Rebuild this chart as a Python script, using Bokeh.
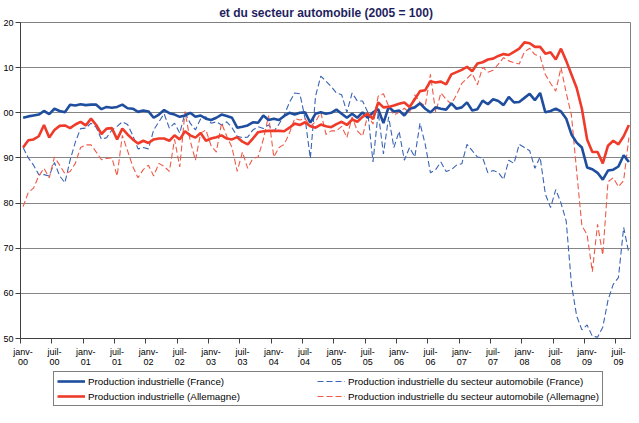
from bokeh.plotting import figure
from bokeh.layouts import column
from bokeh.models import Range1d, FixedTicker, Legend, LegendItem, ColumnDataSource
from bokeh.embed import file_html
from bokeh.resources import INLINE

# ---------------- data (monthly, janv-00 .. sept-09) ----------------
fr_ip = [98.9, 99.2, 99.4, 99.6, 100.4, 99.7, 100.9, 100.4, 100.1, 101.8, 101.6, 101.9, 101.7, 101.8, 101.8, 100.8,
         101.3, 101.1, 101.3, 101.8, 101.0, 100.9, 100.2, 100.5, 100.3, 98.9, 99.6, 100.6, 99.9, 99.6, 99.1,
         99.4, 100.0, 99.1, 99.4, 98.7, 98.4, 98.9, 99.6, 99.3, 98.9, 96.7, 96.9, 97.2, 97.9, 97.8, 99.4, 98.4,
         98.7, 98.4, 99.3, 100.0, 99.6, 100.0, 100.1, 97.8, 99.8, 100.1, 99.8, 100.0,
         100.7, 99.8, 98.9, 99.8, 98.9, 100.1, 98.9, 100.1, 100.8, 97.7, 101.3, 100.3, 100.5, 99.4, 100.9, 101.2,
         102.1, 100.9, 100.1, 101.2, 100.9, 100.7, 102.1, 100.9, 101.2, 102.3, 100.5, 100.8, 102.7,
         101.9, 103.0, 102.6, 101.7, 103.5, 102.3, 102.4, 103.3, 104.2, 102.8, 104.4, 100.1, 100.4, 100.9, 100.3,
         98.7, 95.2, 93.4, 92.3, 87.9, 87.5, 86.7, 85.2, 87.2, 87.4, 88.1, 90.6, 89.1]

de_ip = [92.3, 93.9, 94.1, 94.8, 97.3, 94.5, 96.2, 97.1, 97.2, 96.6, 97.4, 98.0, 97.2, 98.7, 97.3, 95.3,
         96.5, 96.6, 94.1, 96.5, 95.2, 94.1, 93.2, 93.8, 93.3, 94.1, 94.3, 94.3, 93.8, 95.0, 94.1,
         95.9, 95.0, 94.5, 95.5, 93.8, 94.3, 94.6, 95.0, 94.3, 94.1, 94.6, 93.6, 93.0, 94.3, 95.7, 95.9, 96.0,
         96.0, 96.0, 95.9, 96.7, 97.6, 97.3, 97.9, 97.0, 96.7, 97.4, 97.0, 96.8,
         97.5, 98.0, 97.3, 98.5, 98.0, 99.1, 99.8, 98.6, 102.3, 101.2, 101.3, 101.6, 102.0, 102.3, 101.3, 103.0,
         104.8, 105.0, 107.0, 106.7, 106.9, 106.3, 108.5, 109.0, 109.5, 110.2, 109.2, 110.9, 111.2,
         111.8, 112.0, 112.6, 113.0, 112.8, 113.5, 114.2, 115.6, 115.4, 114.6, 114.6, 113.1, 113.4, 111.8, 114.2,
         111.5, 108.5, 105.5, 100.9, 94.1, 91.3, 91.3, 88.8, 92.7, 93.8, 93.0, 94.8, 97.3]

fr_auto = [92.3, 90.0, 88.4, 86.3, 86.3, 86.0, 89.0, 86.0, 84.5, 89.5, 93.5, 96.5, 96.6, 97.7, 96.8, 94.1,
           94.5, 96.2, 97.0, 98.0, 97.4, 95.0, 92.0, 92.3, 92.0, 96.2, 98.0, 99.8, 96.6, 97.7, 95.5,
           100.0, 97.7, 96.2, 98.7, 99.1, 97.7, 98.0, 97.3, 98.0, 96.7, 94.8, 94.5, 94.6, 96.2, 96.9, 96.5, 97.3,
           95.9, 97.5, 99.5, 102.3, 104.4, 104.2, 98.7, 89.9, 103.7, 108.1, 107.0, 105.8,
           104.4, 104.0, 100.1, 104.4, 102.6, 102.6, 100.1, 89.1, 100.1, 90.9, 99.1, 92.3, 95.9, 89.5, 92.3, 90.2,
           97.7, 93.0, 86.7, 87.4, 89.1, 87.0, 87.4, 88.4, 88.7, 93.0, 91.6, 90.2, 90.0,
           86.7, 87.2, 86.8, 85.2, 89.5, 88.8, 93.0, 92.3, 91.6, 87.7, 90.2, 82.0, 79.0, 83.0, 80.0,
           76.0, 62.0, 55.0, 51.9, 53.0, 50.5, 50.3, 52.5, 58.5, 62.0, 63.5, 74.6, 68.9]

de_auto = [79.2, 82.4, 83.3, 86.0, 87.7, 85.6, 90.2, 88.4, 86.5, 87.0, 88.8, 92.3, 92.9, 92.9, 91.3, 89.6,
           89.9, 90.0, 86.0, 95.0, 91.6, 88.1, 85.6, 87.4, 88.4, 86.0, 88.8, 88.1, 87.0, 94.1, 88.0,
           100.3, 93.8, 89.5, 95.5, 96.2, 92.7, 91.3, 97.7, 94.8, 92.3, 87.0, 91.3, 87.7, 89.9, 90.2, 94.1, 99.4,
           90.2, 92.3, 93.0, 95.5, 98.7, 98.4, 98.7, 97.0, 98.0, 100.1, 95.2, 96.0,
           96.0, 97.0, 94.5, 99.1, 96.0, 94.8, 99.5, 97.5, 103.7, 104.2, 101.5, 99.5, 100.1, 101.0, 100.0, 104.0,
           102.3, 101.5, 108.5, 100.1, 104.4, 103.0, 101.9, 104.0, 106.5, 107.6, 108.7, 106.2, 110.1,
           109.0, 109.4, 110.8, 112.2, 111.5, 111.1, 110.8, 113.5, 114.3, 112.9, 112.5, 108.5, 106.5, 104.8, 110.0,
           104.4, 99.5, 87.0, 75.0, 73.0, 64.8, 75.3, 68.5, 84.7, 85.6, 83.6, 85.0, 94.5]

tick_labels = ["janv-\n00", "juil-\n00", "janv-\n01", "juil-\n01", "janv-\n02", "juil-\n02",
               "janv-\n03", "juil-\n03", "janv-\n04", "juil-\n04", "janv-\n05", "juil-\n05",
               "janv-\n06", "juil-\n06", "janv-\n07", "juil-\n07", "janv-\n08", "juil-\n08",
               "janv-\n09", "juil-\n09"]

y_ticks = [50, 60, 70, 80, 90, 100, 110, 120]
y_labels = ["50", "60", "70", "80", "90", "00", "10", "20"]   # as visible (cropped) in the reference

series_names = ["Production industrielle (France)",
                "Production industrielle (Allemagne)",
                "Production industrielle du secteur automobile (France)",
                "Production industrielle du secteur automobile (Allemagne)"]

# ---------------- styles ----------------
FONT = "Liberation Sans"
BLUE = "#1F4E9E"
BLUE_D = "#3A64B4"
RED = "#EE3B2A"
RED_D = "#F05A48"
styles = [dict(line_color=BLUE, line_width=2.6),
          dict(line_color=RED, line_width=2.6),
          dict(line_color=BLUE_D, line_width=1.1, line_dash="6 3"),
          dict(line_color=RED_D, line_width=1.1, line_dash="6 3")]
cols = ["fr_ip", "de_ip", "fr_auto", "de_auto"]

W = 631

# ---------------- main chart ----------------
n = len(fr_ip)
x = list(range(n))
src = ColumnDataSource(dict(x=x, fr_ip=fr_ip, de_ip=de_ip, fr_auto=fr_auto, de_auto=de_auto))

p = figure(width=W, height=370, output_backend="svg", toolbar_location=None,
           x_range=Range1d(-0.5, n - 0.5), y_range=Range1d(50, 120),
           min_border_left=0, min_border_right=0, min_border_top=0, min_border_bottom=0,
           background_fill_color="white", border_fill_color="white")

p.title.text = "et du secteur automobile (2005 = 100)"
p.title.align = "center"
p.title.text_font = FONT
p.title.text_font_size = "12px"
p.title.text_font_style = "bold"
p.title.text_color = "#1F1F5F"
p.title.standoff = 6

p.outline_line_color = "#7F7F7F"
p.outline_line_width = 1

# y axis
p.yaxis.ticker = FixedTicker(ticks=y_ticks)
p.yaxis.major_label_overrides = {t: l for t, l in zip(y_ticks, y_labels)}
p.yaxis.major_label_text_font = FONT
p.yaxis.major_label_text_font_size = "9px"
p.yaxis.major_label_text_color = "black"
p.yaxis.major_label_standoff = 2
p.yaxis.major_tick_in = 0
p.yaxis.major_tick_out = 5
p.yaxis.minor_tick_out = 0
p.yaxis.minor_tick_in = 0
p.yaxis.axis_line_color = "#404040"
p.yaxis.major_tick_line_color = "#404040"

# x axis: labels on first month of each half-year, tick marks at slot boundaries
label_pos = [6 * k for k in range(len(tick_labels))]
tick_pos = [6 * k - 0.5 for k in range(len(tick_labels))]
p.xaxis.ticker = FixedTicker(ticks=label_pos, minor_ticks=tick_pos)
p.xaxis.major_label_overrides = {t: l for t, l in zip(label_pos, tick_labels)}
p.xaxis.major_label_text_font = FONT
p.xaxis.major_label_text_font_size = "9px"
p.xaxis.major_label_text_line_height = 1.05
p.xaxis.major_label_text_color = "black"
p.xaxis.major_label_standoff = 3
p.xaxis.major_tick_in = 0
p.xaxis.major_tick_out = 0
p.xaxis.minor_tick_in = 0
p.xaxis.minor_tick_out = 5
p.xaxis.minor_tick_line_color = "#404040"
p.xaxis.axis_line_color = "#404040"

p.xgrid.visible = False
p.ygrid.ticker = FixedTicker(ticks=y_ticks)
p.ygrid.grid_line_color = "#868686"
p.ygrid.grid_line_width = 1

for i in (2, 3, 0, 1):
    p.line("x", cols[i], source=src, **styles[i])

# ---------------- legend strip (same data, drawn out of view; only the legend shows) ----------------
p2 = figure(width=W, height=37, output_backend="svg", toolbar_location=None,
            x_axis_location=None, y_axis_location=None,
            x_range=Range1d(-0.5, n - 0.5), y_range=Range1d(1000, 1001),
            min_border_left=0, min_border_right=0, min_border_top=0, min_border_bottom=0,
            background_fill_color="white", border_fill_color="white")
p2.grid.visible = False
p2.outline_line_color = None

items = []
for i in range(4):
    r = p2.line("x", cols[i], source=src, **styles[i])
    items.append(LegendItem(label=series_names[i], renderers=[r]))

legend = Legend(items=items, orientation="vertical", nrows=2, location=(33, 1))
legend.label_text_font = FONT
legend.label_text_font_size = "9.8px"
legend.label_text_color = "black"
legend.glyph_width = 28
legend.glyph_height = 12
legend.label_height = 12
legend.label_width = 226
legend.label_standoff = 3
legend.spacing = 3
legend.padding = 3
legend.margin = 0
legend.border_line_color = "black"
legend.border_line_width = 1
legend.background_fill_color = "white"
p2.add_layout(legend)

layout = column(p, p2, spacing=0)
open("out.html", "w").write(file_html(layout, INLINE))
